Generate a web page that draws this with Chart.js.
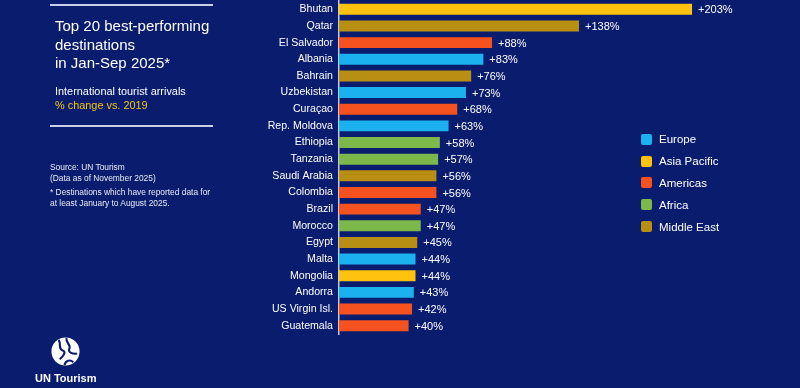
<!DOCTYPE html>
<html>
<head>
<meta charset="utf-8">
<script src="https://cdn.jsdelivr.net/npm/chart.js@4.4.1/dist/chart.umd.min.js"></script>
<style>
  html, body { margin: 0; padding: 0; }
  body { width: 800px; height: 388px; background: #0a1c6e; position: relative; overflow: hidden;
         font-family: "Liberation Sans", Arial, sans-serif; color: #fff; }
  #wrap { position: absolute; left: 0; top: 0; width: 800px; height: 388px; }
  .rule { position: absolute; left: 50px; width: 163px; height: 2px; background: #c9cfe6; }
  #title { position: absolute; left: 55px; top: 17px; font-size: 15px; line-height: 18.5px; }
  #sub { position: absolute; left: 55px; top: 85px; font-size: 10.9px; line-height: 13.5px; }
  #sub span { color: #f5c518; }
  #src { position: absolute; left: 50px; top: 162px; font-size: 8.4px; line-height: 10.7px; color: #e8ebf5; }
  #legend { position: absolute; left: 641px; top: 128.5px; font-size: 11.5px; }
  .li { height: 21.8px; display: flex; align-items: center; }
  .sw { width: 11px; height: 11px; border-radius: 2px; margin-right: 7px; }
  #logo { position: absolute; left: 50px; top: 336px; }
  #logoText { position: absolute; left: 35px; top: 372px; font-size: 11px; font-weight: bold; }
</style>
</head>
<body>
<div id="wrap"><canvas id="chart" width="800" height="388"></canvas></div>
<div class="rule" style="top:4px"></div>
<div id="title">Top 20 best-performing<br>destinations<br>in Jan-Sep 2025*</div>
<div id="sub">International tourist arrivals<br><span>% change vs. 2019</span></div>
<div class="rule" style="top:125px"></div>
<div id="src">Source: UN Tourism<br>(Data as of November 2025)<div style="height:4px"></div>* Destinations which have reported data for<br>at least January to August 2025.</div>
<div id="legend"></div>
<svg id="logo" width="31" height="31" viewBox="0 0 32 32">
  <circle cx="16" cy="16" r="14.5" fill="#fff"/>
  <path d="M9 4 C12 9 8 13 13 15 C17 16 14 21 10 24" stroke="#0a1c6e" stroke-width="2.2" fill="none"/>
  <path d="M17 2 C16 7 22 9 20 13 C18 17 24 19 28 18" stroke="#0a1c6e" stroke-width="2.2" fill="none"/>
  <path d="M15 30 C16 25 21 24 24 27" stroke="#0a1c6e" stroke-width="2.2" fill="none"/>
</svg>
<div id="logoText">UN Tourism</div>
<script>
// Данные: направления, рост к 2019 (%), регион
const countries = ['Bhutan', 'Qatar', 'El Salvador', 'Albania', 'Bahrain', 'Uzbekistan', 'Curaçao',
  'Rep. Moldova', 'Ethiopia', 'Tanzania', 'Saudi Arabia', 'Colombia', 'Brazil', 'Morocco', 'Egypt',
  'Malta', 'Mongolia', 'Andorra', 'US Virgin Isl.', 'Guatemala'];
const changeVs2019 = [203, 138, 88, 83, 76, 73, 68, 63, 58, 57, 56, 56, 47, 47, 45, 44, 44, 43, 42, 40];
const regionOf = ['Asia Pacific', 'Middle East', 'Americas', 'Europe', 'Middle East', 'Europe', 'Americas',
  'Europe', 'Africa', 'Africa', 'Middle East', 'Americas', 'Americas', 'Africa', 'Middle East',
  'Europe', 'Asia Pacific', 'Europe', 'Americas', 'Americas'];
const regions = ['Europe', 'Asia Pacific', 'Americas', 'Africa', 'Middle East'];
const regionColors = ['#1ab1ee', '#ffc30f', '#f6521f', '#7cb84a', '#b88f12'];

const colorFor = r => regionColors[regions.indexOf(r)];

// Легенда
document.getElementById('legend').innerHTML = regions.map((r, i) => `
  <div class="li"><div class="sw" style="background:${regionColors[i]}"></div>${r}</div>
`).join('');

// Подписи значений справа от столбцов
const valueLabels = {
  id: 'valueLabels',
  afterDatasetsDraw(chart) {
    const ctx = chart.ctx;
    const meta = chart.getDatasetMeta(0);
    ctx.save();
    ctx.fillStyle = '#ffffff';
    ctx.font = '11px "Liberation Sans", Arial, sans-serif';
    ctx.textBaseline = 'middle';
    meta.data.forEach((bar, i) => {
      ctx.fillText('+' + changeVs2019[i] + '%', bar.x + 6, bar.y + 1);
    });
    ctx.restore();
  }
};

new Chart(document.getElementById('chart'), {
  type: 'bar',
  data: {
    labels: countries,
    datasets: [{
      data: changeVs2019,
      backgroundColor: regionOf.map(colorFor),
      borderWidth: 0,
      categoryPercentage: 1,
      barPercentage: 0.66
    }]
  },
  options: {
    indexAxis: 'y',
    responsive: false,
    animation: false,
    layout: { padding: { left: 0, right: 61, top: 1, bottom: 54 } },
    plugins: { legend: { display: false }, tooltip: { enabled: false } },
    scales: {
      x: { display: false, min: 0, max: 230 },
      y: {
        grid: { display: false },
        border: { display: true, color: '#c3cae4', width: 1.5 },
        ticks: {
          color: '#ffffff',
          padding: -2,
          font: { family: '"Liberation Sans", Arial, sans-serif', size: 10.6 }
        },
        afterFit(scale) {
          scale.width = 339;
          scale.paddingTop = 0;
          scale.paddingBottom = 0;
        }
      }
    }
  },
  plugins: [valueLabels]
});
</script>
</body>
</html>
